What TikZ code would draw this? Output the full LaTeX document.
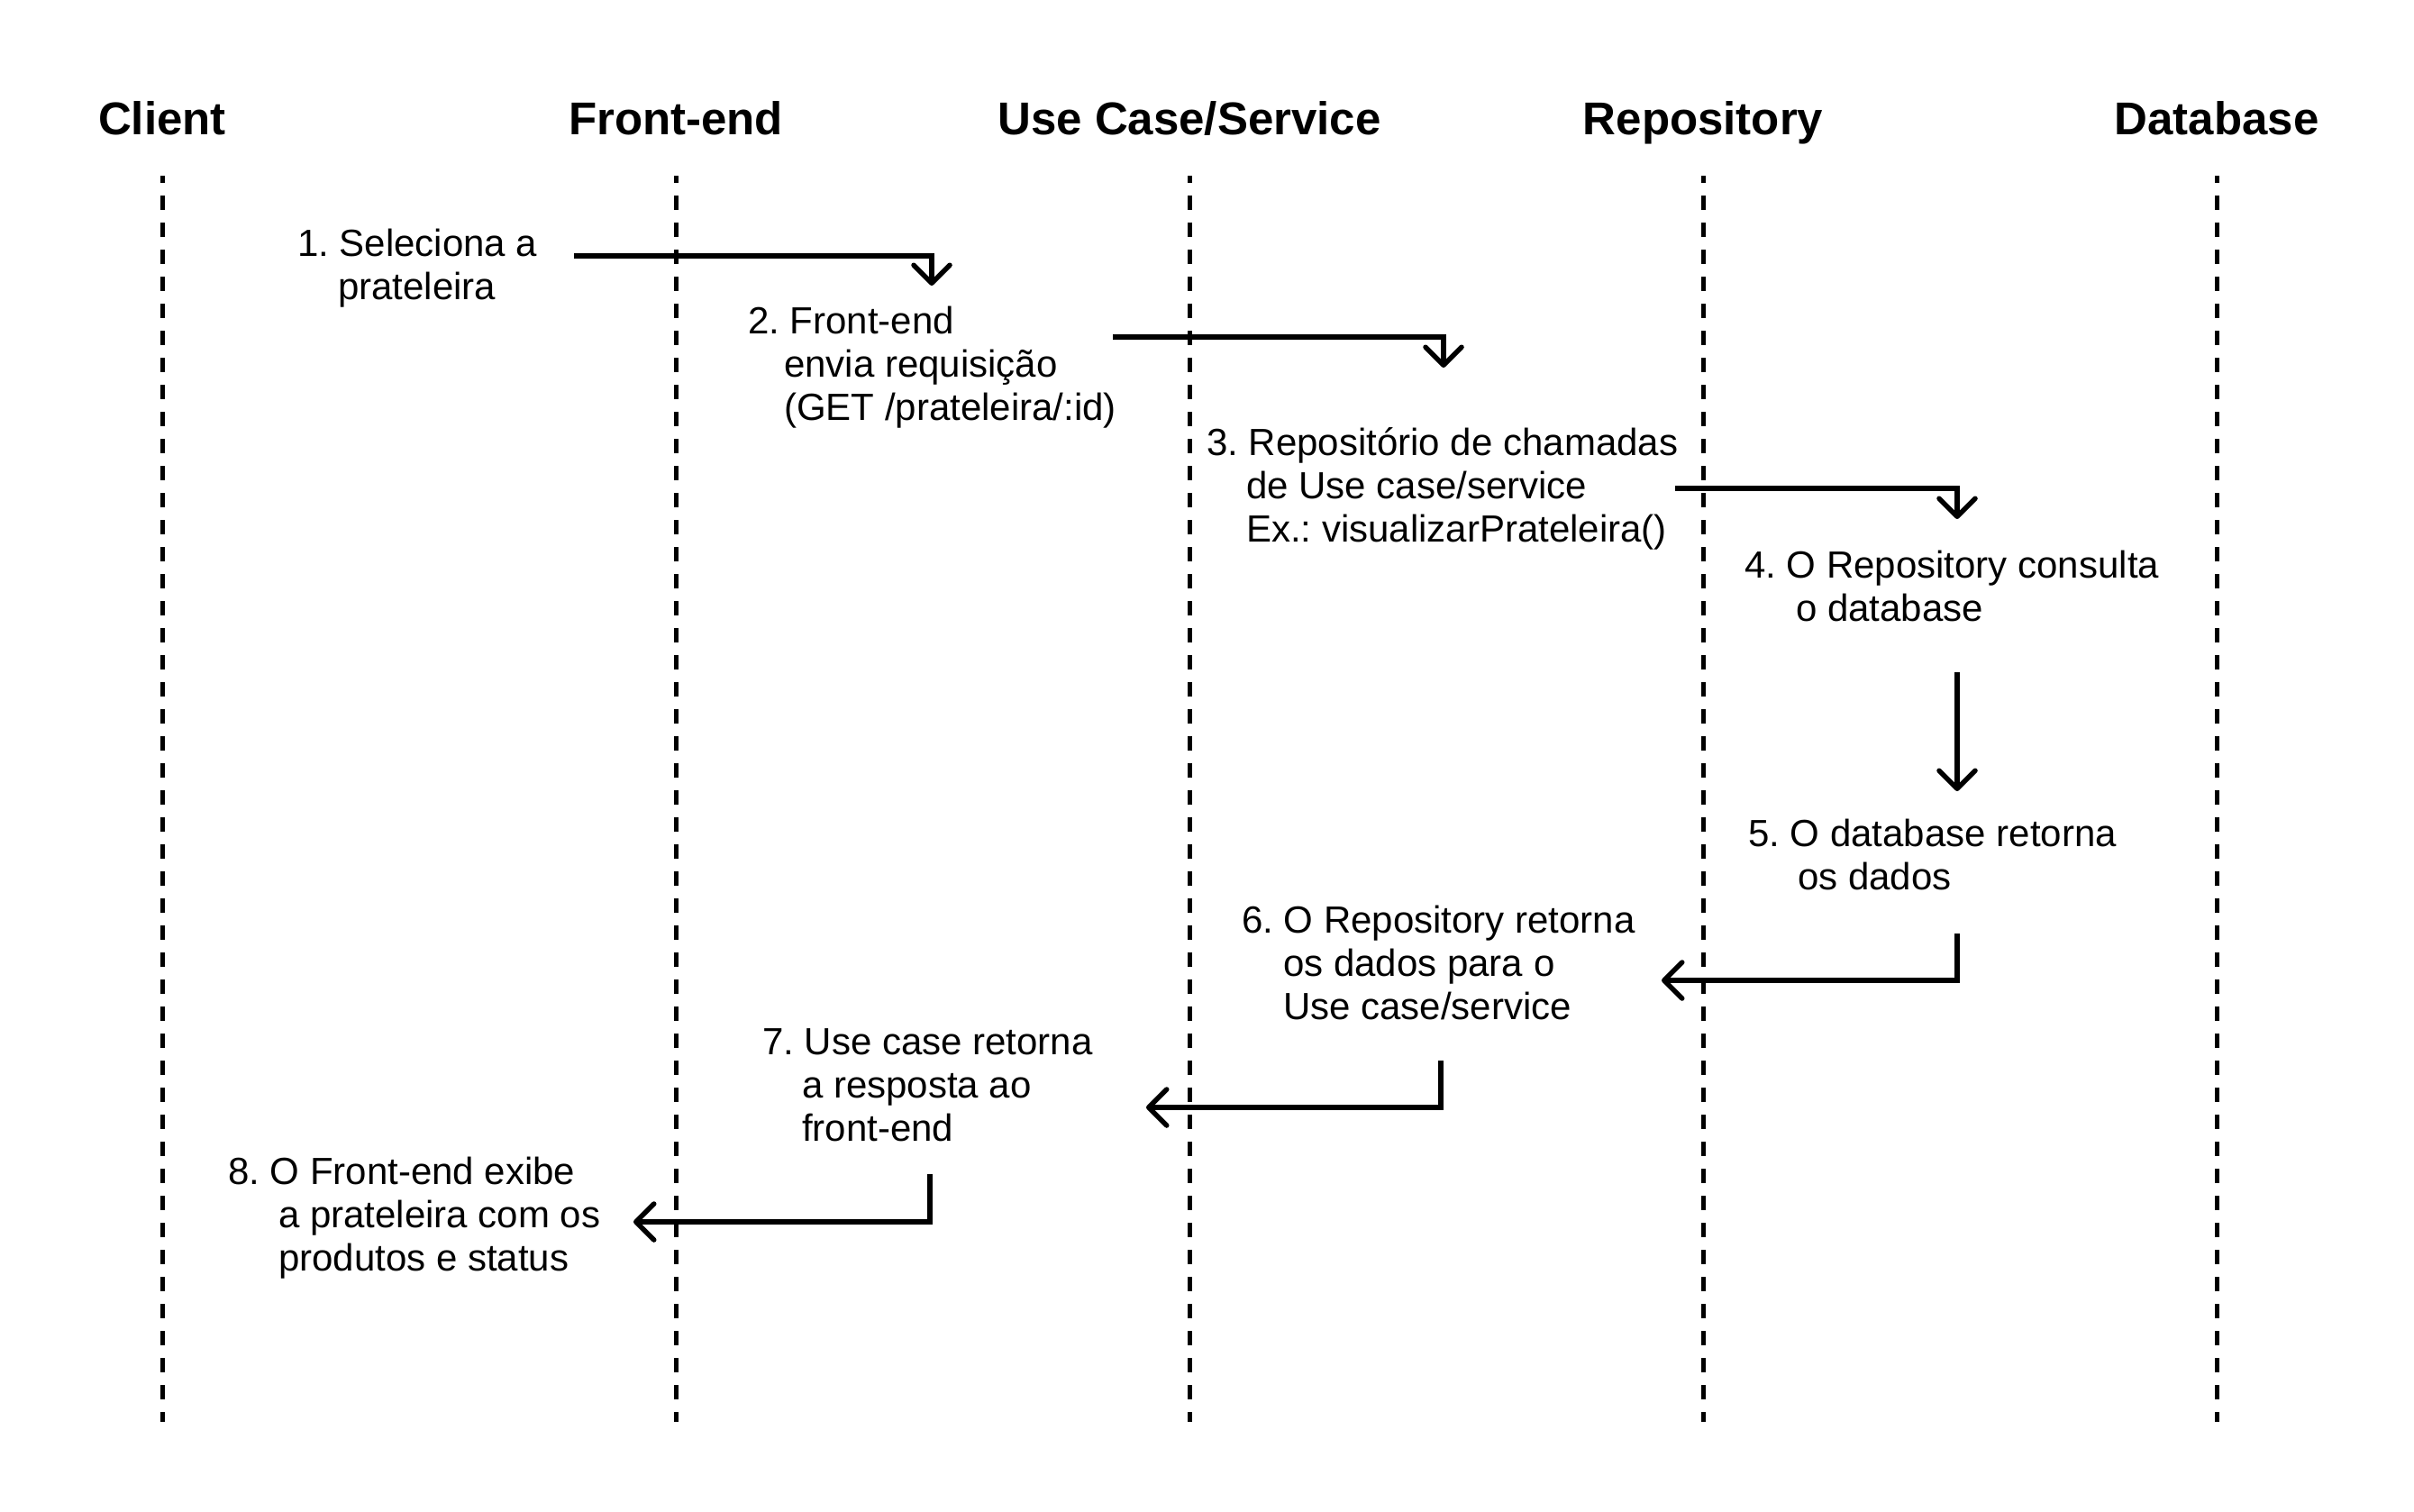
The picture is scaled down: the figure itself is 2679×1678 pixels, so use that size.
\documentclass[tikz,border=0pt]{standalone}
\usepackage{fontspec}
\setmainfont{Liberation Sans}
\usetikzlibrary{arrows.meta}
\newcommand\msgind[1]{\\\hspace*{#1pt}}
\tikzset{
  lifeline/.style={line width=5pt, dash pattern=on 16pt off 14pt, dash phase=8pt},
  head/.style={font=\fontsize{51}{61}\selectfont\bfseries, anchor=base, inner sep=0pt},
  msg/.style={font=\fontsize{42}{48}\selectfont\frenchspacing, align=left, anchor=base west, inner sep=0pt},
  flow/.style={line width=5.5pt, line join=miter, -{Straight Barb[length=20pt,width=40pt,round]}}
}
\begin{document}
\begin{tikzpicture}[x=1pt,y=-1pt]
\useasboundingbox[fill=white] (0,0) rectangle (2679,1678);
% headers
\node[head] (hclient) at (180,149) {Client};
\node[head] (hfront) at (750,149) {Front-end};
\node[head] (huse) at (1320,149) {Use Case/Service};
\node[head] (hrepo) at (1890,149) {Repository};
\node[head] (hdb) at (2460,149) {Database};
% lifelines
\coordinate (lct) at (180,195);  \coordinate (lcb) at (180,1578);
\coordinate (lft) at (750,195);  \coordinate (lfb) at (750,1578);
\coordinate (lut) at (1320,195); \coordinate (lub) at (1320,1578);
\coordinate (lrt) at (1890,195); \coordinate (lrb) at (1890,1578);
\coordinate (ldt) at (2460,195); \coordinate (ldb) at (2460,1578);
\draw[lifeline] (lct) -- (lcb);
\draw[lifeline] (lft) -- (lfb);
\draw[lifeline] (lut) -- (lub);
\draw[lifeline] (lrt) -- (lrb);
\draw[lifeline] (ldt) -- (ldb);
% messages (anchor = baseline of the last line)
\node[msg] (m1) at (330,332) {1. Seleciona a\msgind{45}prateleira};
\node[msg] (m2) at (830,466) {2. Front-end\msgind{40}envia requisição\msgind{40}(GET /prateleira/:id)};
\node[msg] (m3) at (1339,601) {3. Repositório de chamadas\msgind{44}de Use case/service\msgind{44}Ex.: visualizarPrateleira()};
\node[msg] (m4) at (1936,689) {4. O Repository consulta\msgind{57}o database};
\node[msg] (m5) at (1940,987) {5. O database retorna\msgind{55}os dados};
\node[msg] (m6) at (1378,1131) {6. O Repository retorna\msgind{46}os dados para o\msgind{46}Use case/service};
\node[msg] (m7) at (846,1266) {7. Use case retorna\msgind{44}a resposta ao\msgind{44}front-end};
\node[msg] (m8) at (253,1410) {8. O Front-end exibe\msgind{56}a prateleira com os\msgind{56}produtos e status};
% arrows
\coordinate (a1s) at (637,284);  \coordinate (a1c) at (1034,284);  \coordinate (a1e) at (1034,317);
\coordinate (a2s) at (1235,374); \coordinate (a2c) at (1602,374);  \coordinate (a2e) at (1602,408);
\coordinate (a3s) at (1859,542); \coordinate (a3c) at (2172,542);  \coordinate (a3e) at (2172,576);
\coordinate (a4s) at (2172,746); \coordinate (a4e) at (2172,878);
\coordinate (a5s) at (2172,1036); \coordinate (a5c) at (2172,1088); \coordinate (a5e) at (1844,1088);
\coordinate (a6s) at (1599,1177); \coordinate (a6c) at (1599,1229); \coordinate (a6e) at (1272,1229);
\coordinate (a7s) at (1032,1303); \coordinate (a7c) at (1032,1356); \coordinate (a7e) at (703,1356);
\draw[flow] (a1s) -- (a1c) -- (a1e);
\draw[flow] (a2s) -- (a2c) -- (a2e);
\draw[flow] (a3s) -- (a3c) -- (a3e);
\draw[flow] (a4s) -- (a4e);
\draw[flow] (a5s) -- (a5c) -- (a5e);
\draw[flow] (a6s) -- (a6c) -- (a6e);
\draw[flow] (a7s) -- (a7c) -- (a7e);
\end{tikzpicture}
\end{document}
